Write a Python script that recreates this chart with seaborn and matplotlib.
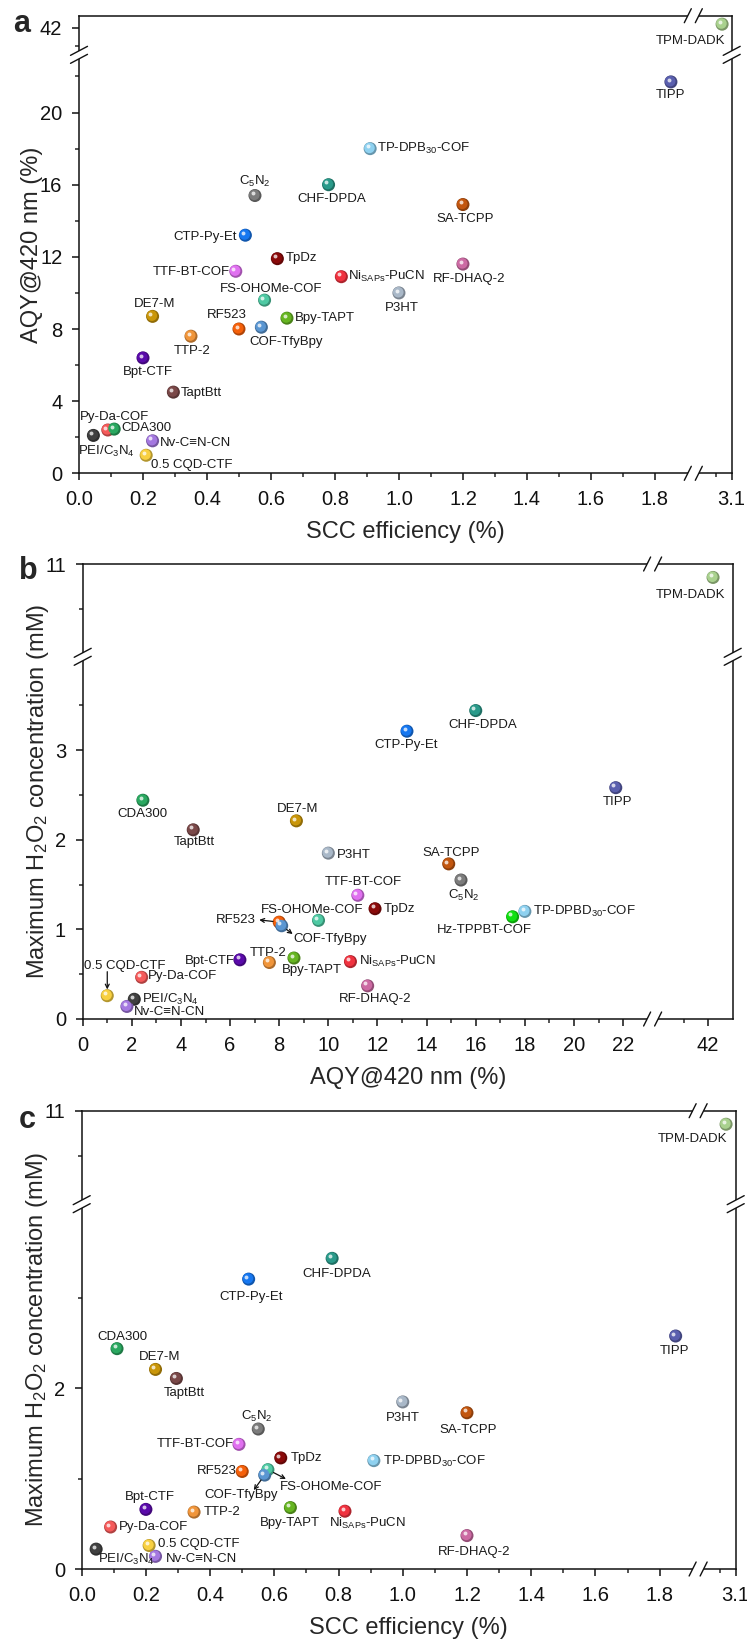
import numpy as np
import pandas as pd
import matplotlib
matplotlib.use("Agg")
import matplotlib.pyplot as plt
import seaborn as sns
from matplotlib.ticker import FixedLocator, FixedFormatter
from matplotlib.transforms import offset_copy
from matplotlib.lines import Line2D
from matplotlib.patches import Rectangle
import matplotlib.colors as mcolors

# ---------------- data ----------------
names = ["TPM-DADK", "TIPP", "TP-DPBD30-COF", "CHF-DPDA", "CTP-Py-Et", "C5N2",
         "SA-TCPP", "RF-DHAQ-2", "P3HT", "NiSAPs-PuCN", "TpDz", "TTF-BT-COF",
         "FS-OHOMe-COF", "DE7-M", "RF523", "COF-TfyBpy", "Bpy-TAPT", "TTP-2",
         "Bpt-CTF", "TaptBtt", "Py-Da-COF", "CDA300", "PEI/C3N4", "Nv-C≡N-CN",
         "0.5 CQD-CTF", "Hz-TPPBT-COF"]
scc = [3.07, 1.85, 0.91, 0.78, 0.52, 0.55,
       1.20, 1.20, 1.00, 0.82, 0.62, 0.49,
       0.58, 0.23, 0.50, 0.57, 0.65, 0.35,
       0.20, 0.295, 0.09, 0.11, 0.045, 0.23,
       0.21, np.nan]
aqy = [42.2, 21.7, 18.0, 16.0, 13.2, 15.4,
       14.9, 11.6, 10.0, 10.9, 11.9, 11.2,
       9.6, 8.7, 8.0, 8.1, 8.6, 7.6,
       6.4, 4.5, 2.4, 2.45, 2.1, 1.8,
       1.0, 17.5]
h2o2 = [10.85, 2.58, 1.20, 3.44, 3.21, 1.55,
        1.73, 0.37, 1.85, 0.64, 1.23, 1.38,
        1.10, 2.21, 1.08, 1.04, 0.68, 0.63,
        0.66, 2.11, 0.465, 2.44, 0.22, 0.14,
        0.26, 1.14]
colors = ["#a9d18e", "#5a5fae", "#8ed1f0", "#2a9a8a", "#1677f0", "#7c7c7c",
          "#c2560f", "#cc6aa3", "#a9b8c8", "#f0323f", "#8a0a0a", "#e070f0",
          "#4ec9a3", "#c9960a", "#f5600a", "#5a96d2", "#66b521", "#f0953a",
          "#5a0aaa", "#7a4848", "#f55a5a", "#2aa860", "#404040", "#a478e0",
          "#f8d040", "#10e010"]
display = {
    "TP-DPBD30-COF": r"TP-DPBD$_\mathregular{30}$-COF",
    "C5N2": r"C$_\mathregular{5}$N$_\mathregular{2}$",
    "NiSAPs-PuCN": r"Ni$_\mathregular{SAPs}$-PuCN",
    "PEI/C3N4": r"PEI/C$_\mathregular{3}$N$_\mathregular{4}$",
}
display_a = dict(display)
display_a["TP-DPBD30-COF"] = r"TP-DPB$_\mathregular{30}$-COF"

x_ticks_scc = [0.0, 0.2, 0.4, 0.6, 0.8, 1.0, 1.2, 1.4, 1.6, 1.8, 3.1]
x_ticklabels_scc = ["0.0", "0.2", "0.4", "0.6", "0.8", "1.0", "1.2", "1.4", "1.6", "1.8", "3.1"]
y_ticks_aqy = [0, 4, 8, 12, 16, 20, 42]
x_ticks_aqy = [0, 2, 4, 6, 8, 10, 12, 14, 16, 18, 20, 22, 42]
y_ticks_b = [0, 1, 2, 3, 11]
y_ticks_c = [0, 2, 11]

df = pd.DataFrame({"name": names, "scc": scc, "aqy": aqy, "h2o2": h2o2})
palette = dict(zip(names, colors))

# ---------------- style ----------------
sns.set_style("ticks")
plt.rcParams["font.family"] = ["Liberation Sans", "DejaVu Sans"]
plt.rcParams["mathtext.fontset"] = "custom"
plt.rcParams["mathtext.rm"] = "Liberation Sans"
plt.rcParams["mathtext.it"] = "Liberation Sans:italic"
plt.rcParams["mathtext.bf"] = "Liberation Sans:bold"
plt.rcParams["axes.linewidth"] = 1.1
plt.rcParams["axes.edgecolor"] = "#111111"

W, H = 747, 1642
fig = plt.figure(figsize=(W / 100, H / 100), dpi=100)
PT = 0.72  # points per pixel
TXT = "#1a1a1a"
LFS = 9.5


def brk(b1, b2):
    g = b2 - b1

    def fwd(v):
        v = np.asarray(v, dtype=float)
        return np.where(v <= b1, v, np.where(v >= b2, v - g, b1))

    def inv(u):
        u = np.asarray(u, dtype=float)
        return np.where(u <= b1, u, u + g)
    return fwd, inv


def to_fig(xy):
    return fig.transFigure.inverted().transform(xy)


def xbreak_marks(ax, val):
    xd = ax.transData.transform((val, ax.get_ylim()[0]))[0]
    for yf in (0, 1):
        yd = ax.transAxes.transform((0, yf))[1]
        sep = 11
        p0 = to_fig((xd - sep / 2, yd - 2.5)); p1 = to_fig((xd + sep / 2, yd + 2.5))
        fig.add_artist(Rectangle(p0, p1[0] - p0[0], p1[1] - p0[1], transform=fig.transFigure,
                                 facecolor="white", edgecolor="none", zorder=20))
        for s in (-sep / 2, sep / 2):
            a = to_fig((xd + s - 3.5, yd - 7)); b = to_fig((xd + s + 3.5, yd + 7))
            fig.add_artist(Line2D([a[0], b[0]], [a[1], b[1]], transform=fig.transFigure,
                                  color="#111111", lw=1.0, zorder=21))


def ybreak_marks(ax, val):
    yd = ax.transData.transform((ax.get_xlim()[0], val))[1]
    for xf in (0, 1):
        xd = ax.transAxes.transform((xf, 0))[0]
        sep = 8
        p0 = to_fig((xd - 2.5, yd - sep / 2)); p1 = to_fig((xd + 2.5, yd + sep / 2))
        fig.add_artist(Rectangle(p0, p1[0] - p0[0], p1[1] - p0[1], transform=fig.transFigure,
                                 facecolor="white", edgecolor="none", zorder=20))
        for s in (-sep / 2, sep / 2):
            a = to_fig((xd - 8.5, yd + s - 4.5)); b = to_fig((xd + 8.5, yd + s + 4.5))
            fig.add_artist(Line2D([a[0], b[0]], [a[1], b[1]], transform=fig.transFigure,
                                  color="#111111", lw=1.0, zorder=21))


def darken(c, f):
    r, g, b = mcolors.to_rgb(c)
    return (r * f, g * f, b * f)


def panel(rect, data, xcol, ycol, xb, yb, xlim, ylim, xmaj, xlab, xmin, ymaj, ylab, ymin,
          xlabel, ylabel, lab_cfg, arrows, letter, disp, letter_xy, ylabelpad):
    ax = fig.add_axes(rect)
    ax.set_xscale("function", functions=brk(*xb))
    ax.set_yscale("function", functions=brk(*yb))
    d = data.dropna(subset=[xcol, ycol])
    sns.scatterplot(data=d, x=xcol, y=ycol, hue="name",
                    palette={k: darken(v, 0.72) for k, v in palette.items()},
                    s=88, linewidth=0, legend=False, ax=ax, zorder=3)
    sh = offset_copy(ax.transData, fig=fig, x=-0.5, y=0.5, units="points")
    ax.scatter(d[xcol], d[ycol], c=[palette[n] for n in d["name"]], s=58, linewidths=0,
               transform=sh, zorder=4)
    hl = offset_copy(ax.transData, fig=fig, x=-1.7, y=1.7, units="points")
    ax.scatter(d[xcol], d[ycol], c="white", alpha=0.75, s=8, linewidths=0, transform=hl, zorder=5)

    ax.set_xlim(*xlim)
    ax.set_ylim(*ylim)
    ax.xaxis.set_major_locator(FixedLocator(xmaj))
    ax.xaxis.set_major_formatter(FixedFormatter(xlab))
    ax.xaxis.set_minor_locator(FixedLocator(xmin))
    ax.yaxis.set_major_locator(FixedLocator(ymaj))
    ax.yaxis.set_major_formatter(FixedFormatter(ylab))
    ax.yaxis.set_minor_locator(FixedLocator(ymin))
    ax.tick_params(which="major", direction="out", length=5, width=1.1, labelsize=14.5,
                   colors="#111111", pad=7)
    ax.tick_params(which="minor", direction="out", length=3, width=1.1)
    for s in ax.spines.values():
        s.set_visible(True)
        s.set_linewidth(1.1)
    ax.set_xlabel(xlabel, fontsize=17, labelpad=9)
    ax.set_ylabel(ylabel, fontsize=17, labelpad=ylabelpad)

    for _, r in d.iterrows():
        n = r["name"]
        dx, dy, ha = lab_cfg[n]
        ax.annotate(disp.get(n, n), xy=(r[xcol], r[ycol]), xytext=(dx * PT, dy * PT),
                    textcoords="offset points", ha=ha, va="center", fontsize=LFS,
                    color=TXT, zorder=6)
    for n, (ex, ey, style) in arrows.items():
        r = d[d["name"] == n].iloc[0]
        ax.annotate("", xy=(r[xcol], r[ycol]), xytext=(ex * PT, ey * PT),
                    textcoords="offset points",
                    arrowprops=dict(arrowstyle=style, color="#111111", lw=0.9,
                                    shrinkA=0, shrinkB=4.5, mutation_scale=7), zorder=6)
    xbreak_marks(ax, xb[0])
    ybreak_marks(ax, yb[0])
    fig.text(letter_xy[0] / W, 1 - letter_xy[1] / H, letter, fontsize=22, fontweight="bold",
             ha="center", va="center")
    return ax


lab_a = {
    "C5N2": (0, 14, "center"), "CHF-DPDA": (3, -14, "center"), "CTP-Py-Et": (-8, -1.5, "right"),
    "TP-DPBD30-COF": (7, 0, "left"), "TPM-DADK": (3, -17, "right"), "TIPP": (0, -13.5, "center"),
    "SA-TCPP": (2.5, -14, "center"), "RF-DHAQ-2": (6.5, -15, "center"), "P3HT": (2.5, -15, "center"),
    "NiSAPs-PuCN": (6.5, 0, "left"), "TpDz": (8, 1, "left"), "TTF-BT-COF": (-6, -1, "right"),
    "FS-OHOMe-COF": (7, 11, "center"), "DE7-M": (2, 12.5, "center"), "RF523": (-12.5, 14, "center"),
    "COF-TfyBpy": (25, -14.5, "center"), "Bpy-TAPT": (7.5, 0, "left"), "TTP-2": (1.5, -14.5, "center"),
    "Bpt-CTF": (4.5, -14.5, "center"), "TaptBtt": (7.5, -0.5, "left"), "Py-Da-COF": (7, 13.5, "center"),
    "CDA300": (7.5, 1, "left"), "PEI/C3N4": (13.5, -16.5, "center"), "Nv-C≡N-CN": (7.5, -2, "left"),
    "0.5 CQD-CTF": (5, -10, "left"),
}
lab_b = {
    "CDA300": (0, -14, "center"), "TaptBtt": (0.7, -12, "center"), "DE7-M": (1.7, 11.4, "center"),
    "TPM-DADK": (12.7, -18, "right"), "CHF-DPDA": (6.6, -14.3, "center"), "CTP-Py-Et": (-1, -14, "center"),
    "TIPP": (1.6, -14.4, "center"), "P3HT": (9, -1.7, "left"), "TTF-BT-COF": (5, 13.3, "center"),
    "TpDz": (9, 0, "left"), "FS-OHOMe-COF": (-6, 10.7, "center"), "RF523": (-23, 2.3, "right"),
    "COF-TfyBpy": (11.6, -13.3, "left"), "Bpt-CTF": (-5, -1, "right"), "TTP-2": (-1, 10, "center"),
    "Bpy-TAPT": (18, -12.4, "center"), "NiSAPs-PuCN": (8.3, 0, "left"), "RF-DHAQ-2": (7.4, -13.3, "center"),
    "0.5 CQD-CTF": (17, 30, "center"), "Py-Da-COF": (6, 1, "left"), "PEI/C3N4": (7.7, 0, "left"),
    "Nv-C≡N-CN": (7.3, -6, "left"), "SA-TCPP": (2.7, 11, "center"), "C5N2": (2.6, -15, "center"),
    "Hz-TPPBT-COF": (-28.6, -13.3, "center"), "TP-DPBD30-COF": (8.4, 0, "left"),
}
arr_b = {"RF523": (-20, 2.3, "<-"), "COF-TfyBpy": (11, -8.3, "<-"), "0.5 CQD-CTF": (0, 24, "->")}
lab_c = {
    "CHF-DPDA": (4.3, -15.7, "center"), "CTP-Py-Et": (2.4, -17.5, "center"), "CDA300": (5, 11.6, "center"),
    "DE7-M": (4, 12.3, "center"), "TPM-DADK": (0.7, -14.3, "right"), "TIPP": (-1, -14.7, "center"),
    "TaptBtt": (7.6, -14.3, "center"), "C5N2": (-1.6, 12.6, "center"), "TTF-BT-COF": (-5, 0, "right"),
    "TpDz": (10, 0, "left"), "RF523": (-5.5, 0, "right"), "FS-OHOMe-COF": (11.6, -17, "left"),
    "COF-TfyBpy": (-23.5, -20, "center"), "Bpt-CTF": (4.3, 12.7, "center"), "TTP-2": (10, 0, "left"),
    "Bpy-TAPT": (-0.7, -15.6, "center"), "NiSAPs-PuCN": (22, -12.3, "center"), "Py-Da-COF": (8.3, 0, "left"),
    "0.5 CQD-CTF": (8.4, 1.4, "left"), "PEI/C3N4": (1.7, -10, "left"), "Nv-C≡N-CN": (10, -2.3, "left"),
    "P3HT": (0, -15.6, "center"), "SA-TCPP": (1, -17, "center"), "TP-DPBD30-COF": (8.7, -1.3, "left"),
    "RF-DHAQ-2": (7, -16.3, "center"),
}
arr_c = {"FS-OHOMe-COF": (18, -9.3, "<-"), "COF-TfyBpy": (-11, -15, "<-")}

xmin_scc = [0.1, 0.3, 0.5, 0.7, 0.9, 1.1, 1.3, 1.5, 1.7, 3.05]
ylab_h2o2 = "Maximum H$_\\mathregular{2}$O$_\\mathregular{2}$ concentration (mM)"

# panel a
panel([79 / W, 1 - 473.3 / H, (731.7 - 79) / W, (473.3 - 15.7) / H], df, "scc", "aqy",
      (1.92, 2.98), (23.2, 40.5), (0, 3.1), (0, 42.67),
      x_ticks_scc, x_ticklabels_scc, xmin_scc,
      y_ticks_aqy, [str(v) for v in y_ticks_aqy], [2, 6, 10, 14, 18, 22, 41],
      "SCC efficiency (%)", "AQY@420 nm (%)", lab_a, {}, "a", display_a, (22, 24), -2)

# panel b
panel([82.7 / W, 1 - 1019 / H, (732.7 - 82.7) / W, (1019 - 564) / H], df, "aqy", "h2o2",
      (23.2, 39.74), (4.04, 9.965), (0, 43), (0, 11),
      x_ticks_aqy, [str(v) for v in x_ticks_aqy], [1, 3, 5, 7, 9, 11, 13, 15, 17, 19, 21, 41],
      y_ticks_b, [str(v) for v in y_ticks_b], [0.5, 1.5, 2.5, 3.5, 10.5],
      "AQY@420 nm (%)", ylab_h2o2, lab_b, arr_b, "b", display, (28, 571), -4)

# panel c
panel([81.7 / W, 1 - 1569 / H, (735.7 - 81.7) / W, (1569 - 1110.7) / H], df, "scc", "h2o2",
      (1.92, 2.983), (4.04, 9.965), (0, 3.1), (0, 11),
      x_ticks_scc, x_ticklabels_scc, xmin_scc,
      y_ticks_c, [str(v) for v in y_ticks_c], [1, 3, 10.5],
      "SCC efficiency (%)", ylab_h2o2, lab_c, arr_c, "c", display, (27, 1120), -4)

fig.savefig("out.png", dpi=100)
